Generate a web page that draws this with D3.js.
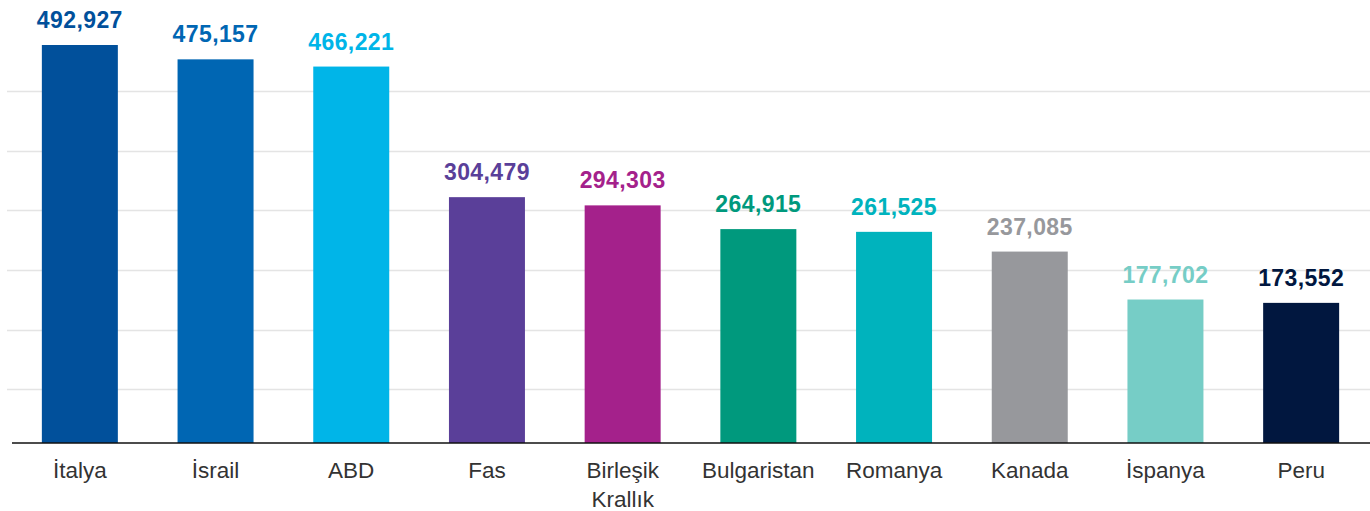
<!DOCTYPE html>
<html>
<head>
<meta charset="utf-8">
<script src="https://cdn.jsdelivr.net/npm/d3@7"></script>
<style>
  html, body { margin: 0; padding: 0; background: #fff; }
  svg { display: block; font-family: "Liberation Sans", Arial, sans-serif; }
</style>
</head>
<body>
<div id="chart"></div>
<script>
// Bar chart data
const categories = ["İtalya", "İsrail", "ABD", "Fas", "Birleşik Krallık", "Bulgaristan", "Romanya", "Kanada", "İspanya", "Peru"];
const values = [492927, 475157, 466221, 304479, 294303, 264915, 261525, 237085, 177702, 173552];
const colors = ["#01509b", "#0066b3", "#00b5e8", "#5a3f99", "#a4218b", "#00997d", "#00b3bd", "#97989c", "#76cdc6", "#01173f"];
const gridValues = [66500, 140400, 214300, 288200, 362100, 436000];

const width = 1370, height = 511;
const baseY = 443, topY = 45;

const svg = d3.select("#chart").append("svg")
    .attr("width", width)
    .attr("height", height);

const x = d3.scaleBand()
    .domain(categories)
    .range([12, 1369])
    .paddingInner(0.44)
    .paddingOuter(0.22);

const y = d3.scaleLinear()
    .domain([0, values[0]])
    .range([baseY, topY]);

// gridlines
svg.append("g")
    .selectAll("line")
    .data(gridValues)
    .join("line")
    .attr("x1", 7)
    .attr("x2", width)
    .attr("y1", d => Math.round(y(d)) + 0.5)
    .attr("y2", d => Math.round(y(d)) + 0.5)
    .attr("stroke", "#e4e4e4")
    .attr("stroke-width", 1.5);

// bars
svg.append("g")
    .selectAll("rect")
    .data(values)
    .join("rect")
    .attr("x", (d, i) => x(categories[i]))
    .attr("y", d => y(d))
    .attr("width", x.bandwidth())
    .attr("height", d => baseY - y(d))
    .attr("fill", (d, i) => colors[i]);

// value labels
svg.append("g")
    .selectAll("text")
    .data(values)
    .join("text")
    .attr("x", (d, i) => x(categories[i]) + x.bandwidth() / 2)
    .attr("y", d => y(d) - 17)
    .attr("text-anchor", "middle")
    .attr("fill", (d, i) => colors[i])
    .style("font-size", "23px")
    .style("font-weight", "bold")
    .style("letter-spacing", "0.4px")
    .text(d => d3.format(",")(d));

// baseline axis
const axis = svg.append("g")
    .attr("transform", `translate(0,${baseY})`)
    .call(d3.axisBottom(x).tickSize(0).tickFormat(""));
axis.select(".domain").remove();
axis.append("line")
    .attr("x1", 12)
    .attr("x2", width)
    .attr("stroke", "#111")
    .attr("stroke-width", 1.5);

// category labels (wrap two-word names that don't fit)
svg.append("g")
    .selectAll("text")
    .data(categories)
    .join("text")
    .attr("x", d => x(d) + x.bandwidth() / 2)
    .attr("y", 478)
    .attr("text-anchor", "middle")
    .attr("fill", "#333")
    .style("font-size", "22.5px")
    .each(function(d) {
        const words = d.length > 12 ? d.split(" ") : [d];
        const t = d3.select(this);
        words.forEach((w, i) => {
            t.append("tspan")
                .attr("x", x(d) + x.bandwidth() / 2)
                .attr("dy", i === 0 ? 0 : 29)
                .text(w);
        });
    });
</script>
</body>
</html>
